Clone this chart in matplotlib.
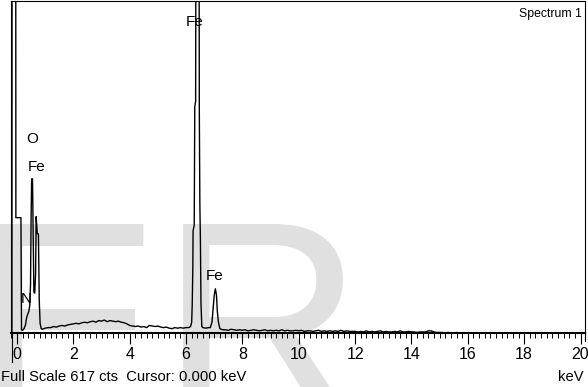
import numpy as np
import matplotlib.pyplot as plt
from matplotlib.lines import Line2D
from matplotlib.ticker import MultipleLocator

plt.rcParams['font.family'] = ['Liberation Sans', 'DejaVu Sans']

# спектр: низкие энергии (шумовой пик, N, O, Fe L)
low_kev = [-0.20, -0.18, -0.17, -0.05, -0.04, 0.14, 0.16, 0.20, 0.25, 0.30, 0.34,
           0.38, 0.42, 0.45, 0.48, 0.50, 0.52, 0.55, 0.58, 0.60, 0.63, 0.66,
           0.68, 0.72, 0.76, 0.79, 0.82, 0.86]
low_cts = [0, 0, 1500, 1500, 214, 214, 6, 5, 8, 15, 28,
           35, 40, 50, 90, 210, 286, 286, 150, 75, 74, 110,
           216, 184, 184, 60, 18, 8]

# фон 0.9 .. 6.0 keV, шаг 0.1
bg1_cts = [7,
           9, 10, 10, 12, 11, 13, 14, 13, 15, 16,
           17, 18, 17, 19, 20, 19, 21, 22, 20, 23,
           22, 24, 21, 23, 22, 21, 22, 20, 19, 17,
           14, 13, 12, 13, 11, 12, 10, 14, 13, 12,
           13, 11, 10, 11, 9, 8, 10, 9, 10, 9,
           10]
bg1_kev = np.linspace(0.9, 6.0, len(bg1_cts))

# Fe K-alpha / K-beta
fek_kev = [6.10, 6.16, 6.20, 6.22, 6.24, 6.25, 6.29, 6.31, 6.34, 6.37, 6.45,
           6.47, 6.49, 6.51, 6.53, 6.56, 6.60, 6.70, 6.80, 6.86, 6.92, 6.96,
           7.00, 7.04, 7.08, 7.11, 7.15, 7.20, 7.30]
fek_cts = [10, 12, 20, 55, 120, 190, 200, 420, 430, 1400, 1400,
           420, 240, 170, 55, 12, 10, 9, 10, 10, 20, 45,
           70, 82, 70, 40, 20, 8, 6]

# фон 7.4 .. 20.0 keV, шаг 0.1
bg2_cts = [6, 5, 7, 6, 5, 6,
           5, 6, 4, 5, 6, 5, 4, 5, 6, 4,
           5, 4, 5, 4, 6, 4, 5, 4, 4, 5,
           4, 5, 3, 4, 4, 3, 4, 5, 3, 4,
           3, 4, 3, 4, 3, 5, 3, 4, 3, 3,
           3, 2, 3, 2, 4, 2, 3, 2, 3, 4,
           2, 3, 2, 2, 3, 2, 4, 2, 2, 3,
           2, 2, 1, 2, 2, 2, 4, 4, 2, 1,
           1, 1, 0, 1, 0, 0, 1, 0, 0, 0,
           0, 0, 0, 0, 0, 0, 0, 0, 0, 0,
           0, 0, 0, 0, 0, 0, 0, 0, 0, 0,
           0, 0, 0, 0, 0, 0, 0, 0, 0, 0,
           0, 0, 0, 0, 0, 0, 0, 0, 0, 0,
           0]
bg2_kev = np.linspace(7.4, 20.0, len(bg2_cts))

energy = np.concatenate([low_kev, bg1_kev, fek_kev, bg2_kev])
counts = np.concatenate([low_cts, bg1_cts, fek_cts, bg2_cts])

# подписи пиков (текст, keV, cts)
peak_labels = ["Fe", "O", "Fe", "N", "Fe"]
label_kev = [6.29, 0.53, 0.69, 0.34, 7.02]
label_cts = [577, 360, 308, 64, 106]

full_scale = 617

W, H = 588, 387
fig = plt.figure(figsize=(W / 100, H / 100), dpi=100)

# водяной знак
fig.text(-27 / W, (H - 419) / H, "ER", fontsize=203, color="#e0e0e0",
         ha="left", va="baseline", zorder=-5)

ax = fig.add_axes([11 / W, (H - 333) / H, 574 / W, 332.5 / H])
ax.set_facecolor("none")

ax.plot(energy, counts, color="black", lw=1.0)

ax.set_xlim((11 - 17) / 28.175, (585 - 17) / 28.175)
ax.set_ylim(0, full_scale)

for s in ["top", "left", "right"]:
    ax.spines[s].set_linewidth(0.8)
ax.spines["bottom"].set_linewidth(1.5)

ax.set_yticks([])
ax.xaxis.set_major_locator(MultipleLocator(2))
ax.xaxis.set_minor_locator(MultipleLocator(0.2))
ax.tick_params(axis="x", which="major", length=8, width=0.8, pad=2, labelsize=11.5)
ax.tick_params(axis="x", which="minor", length=3.5, width=0.7)
ax.get_xticklabels()[-1].set_horizontalalignment("right")

for name, xk, yc in zip(peak_labels, label_kev, label_cts):
    ax.text(xk, yc, name, ha="center", va="center", fontsize=11)

# продолжение рамки вниз
fig.add_artist(Line2D([11.5 / W, 11.5 / W], [(H - 362) / H, (H - 333) / H],
                      color="black", lw=0.8))
fig.add_artist(Line2D([584.5 / W, 584.5 / W], [(H - 341) / H, (H - 333) / H],
                      color="black", lw=0.8))

fig.text(582 / W, (H - 14) / H, "Spectrum 1", ha="right", va="center", fontsize=8.8)
fig.text(1 / W, (H - 381) / H, "Full Scale 617 cts  Cursor: 0.000 keV",
         ha="left", va="baseline", fontsize=10.6)
fig.text(584 / W, (H - 381) / H, "keV", ha="right", va="baseline", fontsize=10.6)

fig.savefig("out.png", dpi=100)
